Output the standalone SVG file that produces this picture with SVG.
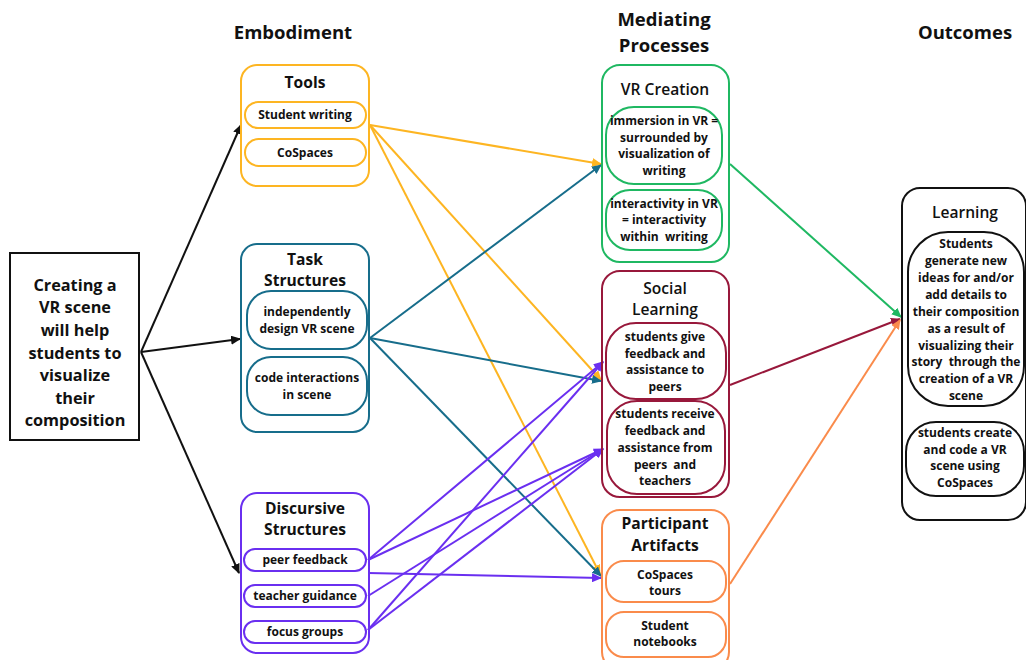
<svg xmlns="http://www.w3.org/2000/svg" width="1026" height="660" viewBox="0 0 1026 660">
  <style>
    .t{font-family:"Open Sans","Liberation Sans",sans-serif;text-anchor:middle;fill:#111;white-space:pre}
    .h{font-size:18.5px;font-weight:700}
    .big{font-size:16.3px;font-weight:700}
    .ti{font-size:15.6px;font-weight:700}
    .tm{font-size:15.6px;font-weight:600}
    .s{font-size:12px;font-weight:700}
    .box{fill:none;stroke-width:2}
    .yel{stroke:#fdb522}
    .teal{stroke:#176d8b}
    .pur{stroke:#6a2ff0}
    .grn{stroke:#1fb862}
    .red{stroke:#98183b}
    .org{stroke:#fa8b4b}
    .blk{stroke:#111}
    .c{fill:none;stroke-width:2}
  </style>
  <defs>
    <marker id="aBlk" markerUnits="userSpaceOnUse" markerWidth="10" markerHeight="9" refX="9" refY="4.5" orient="auto"><path d="M0,0 L10,4.5 L0,9 z" fill="#111"/></marker>
    <marker id="aYel" markerUnits="userSpaceOnUse" markerWidth="10" markerHeight="9" refX="9" refY="4.5" orient="auto"><path d="M0,0 L10,4.5 L0,9 z" fill="#fdb522"/></marker>
    <marker id="aTeal" markerUnits="userSpaceOnUse" markerWidth="10" markerHeight="9" refX="9" refY="4.5" orient="auto"><path d="M0,0 L10,4.5 L0,9 z" fill="#176d8b"/></marker>
    <marker id="aPur" markerUnits="userSpaceOnUse" markerWidth="10" markerHeight="9" refX="9" refY="4.5" orient="auto"><path d="M0,0 L10,4.5 L0,9 z" fill="#6a2ff0"/></marker>
    <marker id="aGrn" markerUnits="userSpaceOnUse" markerWidth="10" markerHeight="9" refX="9" refY="4.5" orient="auto"><path d="M0,0 L10,4.5 L0,9 z" fill="#1fb862"/></marker>
    <marker id="aRed" markerUnits="userSpaceOnUse" markerWidth="10" markerHeight="9" refX="9" refY="4.5" orient="auto"><path d="M0,0 L10,4.5 L0,9 z" fill="#98183b"/></marker>
    <marker id="aOrg" markerUnits="userSpaceOnUse" markerWidth="10" markerHeight="9" refX="9" refY="4.5" orient="auto"><path d="M0,0 L10,4.5 L0,9 z" fill="#fa8b4b"/></marker>
  </defs>
  <rect width="1026" height="660" fill="#fff"/>

  <!-- column headings -->
  <g id="headings">
    <text class="t h" x="293" y="39">Embodiment</text>
    <text class="t h" x="664" y="26">Mediating</text>
    <text class="t h" x="664" y="52">Processes</text>
    <text class="t h" x="965" y="39">Outcomes</text>
  </g>

  <!-- connectors -->
  <g id="connectors">
    <line class="c blk" x1="141" y1="352" x2="241" y2="125" marker-end="url(#aBlk)"/>
    <line class="c blk" x1="141" y1="352" x2="240" y2="339" marker-end="url(#aBlk)"/>
    <line class="c blk" x1="141" y1="352" x2="239" y2="573" marker-end="url(#aBlk)"/>

    <line class="c yel" x1="370" y1="125" x2="601" y2="164" marker-end="url(#aYel)"/>
    <line class="c yel" x1="370" y1="125" x2="601" y2="380" marker-end="url(#aYel)"/>
    <line class="c yel" x1="370" y1="125" x2="600" y2="574" marker-end="url(#aYel)"/>

    <line class="c teal" x1="370" y1="338" x2="601" y2="165" marker-end="url(#aTeal)"/>
    <line class="c teal" x1="370" y1="338" x2="601" y2="381" marker-end="url(#aTeal)"/>
    <line class="c teal" x1="370" y1="338" x2="601" y2="576" marker-end="url(#aTeal)"/>

    <line class="c pur" x1="368" y1="560" x2="603" y2="362" marker-end="url(#aPur)"/>
    <line class="c pur" x1="368" y1="560" x2="603" y2="449" marker-end="url(#aPur)"/>
    <line class="c pur" x1="368" y1="573" x2="601" y2="578" marker-end="url(#aPur)"/>
    <line class="c pur" x1="368" y1="596" x2="603" y2="449" marker-end="url(#aPur)"/>
    <line class="c pur" x1="368" y1="630" x2="603" y2="362" marker-end="url(#aPur)"/>
    <line class="c pur" x1="368" y1="630" x2="603" y2="449" marker-end="url(#aPur)"/>

    <line class="c grn" x1="730" y1="164" x2="901" y2="317" marker-end="url(#aGrn)"/>
    <line class="c red" x1="730" y1="385" x2="900" y2="319" marker-end="url(#aRed)"/>
    <line class="c org" x1="730" y1="584" x2="900" y2="320" marker-end="url(#aOrg)"/>
  </g>

  <!-- hypothesis -->
  <g id="hypothesis">
    <rect class="box blk" x="10" y="253" width="129" height="187"/>
    <text class="t big" x="75" y="291">Creating a</text>
    <text class="t big" x="75" y="313">VR scene</text>
    <text class="t big" x="75" y="336">will help</text>
    <text class="t big" x="75" y="359">students to</text>
    <text class="t big" x="75" y="381">visualize</text>
    <text class="t big" x="75" y="404">their</text>
    <text class="t big" x="75" y="426">composition</text>
  </g>

  <!-- embodiment -->
  <g id="tools">
    <rect class="box yel" x="241" y="65" width="128" height="121" rx="16"/>
    <text class="t ti" x="305" y="88">Tools</text>
    <rect class="box yel" x="245" y="102" width="121" height="26" rx="13"/>
    <text class="t s" x="305" y="119">Student writing</text>
    <rect class="box yel" x="245" y="139" width="121" height="27" rx="13.5"/>
    <text class="t s" x="305" y="157">CoSpaces</text>
  </g>

  <g id="task-structures">
    <rect class="box teal" x="241" y="244" width="128" height="188" rx="16"/>
    <text class="t ti" x="305" y="265">Task</text>
    <text class="t ti" x="305" y="286">Structures</text>
    <rect class="box teal" x="247" y="291" width="120" height="58" rx="24"/>
    <text class="t s" x="307" y="316">independently</text>
    <text class="t s" x="307" y="333">design VR scene</text>
    <rect class="box teal" x="247" y="357" width="120" height="58" rx="24"/>
    <text class="t s" x="307" y="382">code interactions</text>
    <text class="t s" x="307" y="399">in scene</text>
  </g>

  <g id="discursive-structures">
    <rect class="box pur" x="241" y="493" width="128" height="160" rx="16"/>
    <text class="t ti" x="305" y="514">Discursive</text>
    <text class="t ti" x="305" y="535">Structures</text>
    <rect class="box pur" x="244" y="549" width="122" height="22" rx="11"/>
    <text class="t s" x="305" y="564">peer feedback</text>
    <rect class="box pur" x="244" y="585" width="122" height="22" rx="11"/>
    <text class="t s" x="305" y="600">teacher guidance</text>
    <rect class="box pur" x="244" y="621" width="122" height="22" rx="11"/>
    <text class="t s" x="305" y="636">focus groups</text>
  </g>

  <!-- mediating processes -->
  <g id="vr-creation">
    <rect class="box grn" x="602" y="65" width="127" height="197" rx="18"/>
    <text class="t tm" x="665" y="95">VR Creation</text>
    <rect class="box grn" x="606" y="107" width="116" height="77" rx="28"/>
    <text class="t s" x="664" y="125">immersion in VR =</text>
    <text class="t s" x="664" y="142">surrounded by</text>
    <text class="t s" x="664" y="158">visualization of</text>
    <text class="t s" x="664" y="175">writing</text>
    <rect class="box grn" x="606" y="190" width="116" height="60" rx="24"/>
    <text class="t s" x="664" y="208">interactivity in VR</text>
    <text class="t s" x="664" y="224">= interactivity</text>
    <text class="t s" x="664" y="241">within  writing</text>
  </g>

  <g id="social-learning">
    <rect class="box red" x="602" y="271" width="127" height="226" rx="18"/>
    <text class="t tm" x="665" y="294">Social</text>
    <text class="t tm" x="665" y="315">Learning</text>
    <rect class="box red" x="606" y="323" width="120" height="76" rx="30"/>
    <text class="t s" x="665" y="341">students give</text>
    <text class="t s" x="665" y="358">feedback and</text>
    <text class="t s" x="665" y="374">assistance to</text>
    <text class="t s" x="665" y="391">peers</text>
    <rect class="box red" x="607" y="401" width="118" height="93" rx="30"/>
    <text class="t s" x="665" y="418">students receive</text>
    <text class="t s" x="665" y="435">feedback and</text>
    <text class="t s" x="665" y="452">assistance from</text>
    <text class="t s" x="665" y="469">peers  and</text>
    <text class="t s" x="665" y="485">teachers</text>
  </g>

  <g id="participant-artifacts">
    <rect class="box org" x="602" y="510" width="127" height="160" rx="18"/>
    <text class="t ti" x="665" y="529">Participant</text>
    <text class="t ti" x="665" y="551">Artifacts</text>
    <rect class="box org" x="606" y="561" width="120" height="41" rx="18"/>
    <text class="t s" x="665" y="579">CoSpaces</text>
    <text class="t s" x="665" y="595">tours</text>
    <rect class="box org" x="606" y="612" width="120" height="45" rx="18"/>
    <text class="t s" x="665" y="630">Student</text>
    <text class="t s" x="665" y="646">notebooks</text>
  </g>

  <!-- outcomes -->
  <g id="learning">
    <rect class="box blk" x="902" y="188" width="124" height="332" rx="18"/>
    <text class="t tm" x="965" y="218">Learning</text>
    <rect class="box blk" x="908" y="232" width="116" height="174" rx="40"/>
    <text class="t s" x="966" y="248">Students</text>
    <text class="t s" x="966" y="265">generate new</text>
    <text class="t s" x="966" y="282">ideas for and/or</text>
    <text class="t s" x="966" y="299">add details to</text>
    <text class="t s" x="966" y="316">their composition</text>
    <text class="t s" x="966" y="333">as a result of</text>
    <text class="t s" x="966" y="350">visualizing their</text>
    <text class="t s" x="966" y="366">story  through the</text>
    <text class="t s" x="966" y="383">creation of a VR</text>
    <text class="t s" x="966" y="400">scene</text>
    <rect class="box blk" x="906" y="422" width="118" height="74" rx="30"/>
    <text class="t s" x="965" y="437">students create</text>
    <text class="t s" x="965" y="454">and code a VR</text>
    <text class="t s" x="965" y="470">scene using</text>
    <text class="t s" x="965" y="487">CoSpaces</text>
  </g>
</svg>
